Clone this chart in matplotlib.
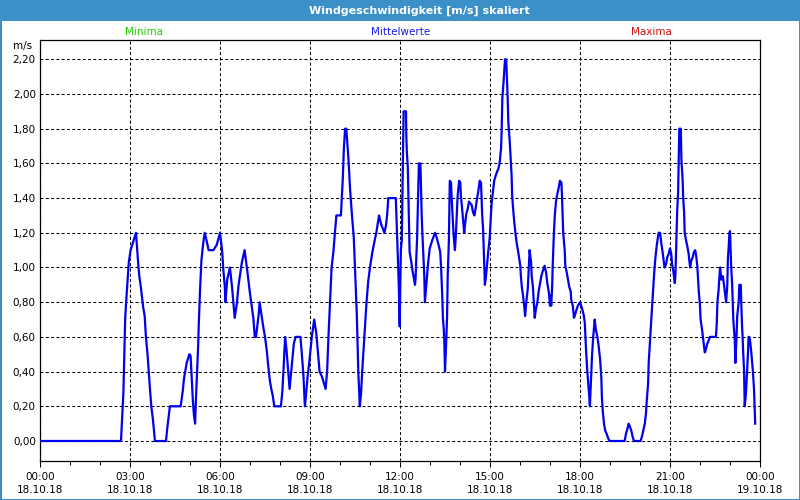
import matplotlib
matplotlib.use('Agg')
import matplotlib.pyplot as plt
from matplotlib.patches import Rectangle
from matplotlib.ticker import MultipleLocator

plt.rcParams['font.family'] = ['DejaVu Sans']
plt.rcParams['lines.scale_dashes'] = False

# ---------------- data ----------------
title = "Windgeschwindigkeit [m/s] skaliert"
legend_labels = ["Minima", "Mittelwerte", "Maxima"]
unit_label = "m/s"

hours = [
    0.00, 2.70, 2.74, 2.78, 2.80, 2.82, 2.84, 2.89, 2.96, 3.02, 3.11, 3.20, 3.22, 3.27, 3.31, 3.36,
    3.44, 3.49, 3.53, 3.58, 3.62, 3.67, 3.71, 3.76, 3.80, 3.83, 4.20, 4.24, 4.29, 4.33, 4.69, 4.76,
    4.80, 4.89, 4.98, 5.02, 5.06, 5.09, 5.13, 5.17, 5.20, 5.23, 5.27, 5.29, 5.33, 5.38, 5.44, 5.49,
    5.56, 5.62, 5.78, 5.89, 6.00, 6.07, 6.11, 6.16, 6.18, 6.24, 6.33, 6.40, 6.44, 6.49, 6.56, 6.62,
    6.73, 6.82, 6.91, 7.00, 7.11, 7.16, 7.20, 7.29, 7.32, 7.39, 7.44, 7.50, 7.56, 7.61, 7.66, 7.71,
    7.76, 7.81, 8.03, 8.08, 8.12, 8.17, 8.21, 8.26, 8.32, 8.39, 8.46, 8.52, 8.68, 8.72, 8.78, 8.83,
    8.88, 8.92, 8.98, 9.06, 9.14, 9.21, 9.26, 9.32, 9.40, 9.52, 9.57, 9.62, 9.67, 9.72, 9.78, 9.83,
    9.88, 10.03, 10.09, 10.13, 10.17, 10.21, 10.28, 10.34, 10.40, 10.46, 10.50, 10.56, 10.58, 10.61,
    10.66, 10.70, 10.74, 10.81, 10.88, 10.94, 11.00, 11.07, 11.16, 11.21, 11.30, 11.37, 11.48, 11.53,
    11.57, 11.61, 11.86, 11.88, 11.92, 11.96, 11.99, 12.01, 12.03, 12.06, 12.08, 12.10, 12.12, 12.20,
    12.21, 12.23, 12.26, 12.28, 12.30, 12.32, 12.37, 12.41, 12.46, 12.50, 12.52, 12.54, 12.57, 12.59,
    12.61, 12.63, 12.68, 12.70, 12.72, 12.74, 12.77, 12.79, 12.81, 12.83, 12.88, 12.92, 12.94, 12.99,
    13.08, 13.17, 13.21, 13.30, 13.34, 13.37, 13.39, 13.41, 13.43, 13.46, 13.48, 13.50, 13.54, 13.57,
    13.59, 13.63, 13.66, 13.70, 13.72, 13.74, 13.79, 13.83, 13.86, 13.88, 13.90, 13.92, 13.97, 14.01,
    14.03, 14.06, 14.10, 14.14, 14.17, 14.21, 14.26, 14.30, 14.39, 14.43, 14.48, 14.52, 14.57, 14.61,
    14.66, 14.68, 14.70, 14.72, 14.74, 14.77, 14.79, 14.81, 14.83, 14.86, 14.90, 14.94, 14.99, 15.03,
    15.06, 15.10, 15.14, 15.19, 15.23, 15.28, 15.32, 15.37, 15.39, 15.41, 15.46, 15.50, 15.54, 15.57,
    15.59, 15.61, 15.66, 15.70, 15.72, 15.74, 15.77, 15.81, 15.86, 15.90, 15.94, 15.99, 16.01, 16.03,
    16.06, 16.10, 16.14, 16.17, 16.21, 16.26, 16.28, 16.30, 16.32, 16.37, 16.39, 16.43, 16.49, 16.53,
    16.58, 16.62, 16.67, 16.71, 16.76, 16.82, 16.87, 16.91, 16.96, 17.00, 17.02, 17.04, 17.07, 17.09,
    17.11, 17.13, 17.16, 17.20, 17.24, 17.29, 17.33, 17.38, 17.40, 17.42, 17.44, 17.49, 17.51, 17.56,
    17.60, 17.64, 17.69, 17.71, 17.76, 17.80, 17.84, 17.89, 17.93, 18.00, 18.04, 18.09, 18.13, 18.16,
    18.20, 18.24, 18.29, 18.33, 18.36, 18.40, 18.44, 18.49, 18.53, 18.58, 18.62, 18.67, 18.71, 18.73,
    18.76, 18.80, 18.84, 18.89, 18.93, 18.98, 19.49, 19.53, 19.58, 19.62, 19.67, 19.71, 19.76, 19.80,
    20.02, 20.07, 20.11, 20.16, 20.20, 20.22, 20.27, 20.29, 20.33, 20.38, 20.42, 20.47, 20.51, 20.56,
    20.62, 20.67, 20.71, 20.76, 20.82, 20.87, 20.91, 20.96, 21.00, 21.04, 21.07, 21.11, 21.16, 21.18,
    21.20, 21.22, 21.24, 21.27, 21.29, 21.31, 21.36, 21.38, 21.40, 21.42, 21.44, 21.47, 21.49, 21.53,
    21.58, 21.62, 21.67, 21.71, 21.76, 21.80, 21.84, 21.87, 21.91, 21.93, 21.96, 22.00, 22.02, 22.07,
    22.11, 22.16, 22.20, 22.24, 22.29, 22.33, 22.53, 22.56, 22.58, 22.62, 22.64, 22.67, 22.71, 22.76,
    22.80, 22.84, 22.87, 22.91, 22.93, 22.96, 22.98, 23.00, 23.02, 23.04, 23.07, 23.09, 23.11, 23.16,
    23.18, 23.20, 23.22, 23.24, 23.29, 23.31, 23.36, 23.38, 23.40, 23.42, 23.44, 23.47, 23.49, 23.53,
    23.56, 23.58, 23.60, 23.62, 23.64, 23.67, 23.71, 23.76, 23.80, 23.82, 23.84,
]

speed = [
    0.00, 0.00, 0.14, 0.28, 0.42, 0.56, 0.71, 0.85, 1.03, 1.10, 1.15, 1.20, 1.15, 1.03, 0.95, 0.89,
    0.77, 0.72, 0.60, 0.51, 0.41, 0.29, 0.20, 0.13, 0.06, 0.00, 0.00, 0.07, 0.14, 0.20, 0.20, 0.29,
    0.36, 0.45, 0.50, 0.49, 0.35, 0.25, 0.15, 0.10, 0.25, 0.38, 0.54, 0.66, 0.85, 1.04, 1.14, 1.20,
    1.15, 1.10, 1.10, 1.13, 1.20, 1.10, 0.99, 0.89, 0.80, 0.93, 1.00, 0.89, 0.81, 0.71, 0.79, 0.90,
    1.03, 1.10, 0.98, 0.85, 0.71, 0.60, 0.60, 0.73, 0.80, 0.72, 0.66, 0.60, 0.52, 0.43, 0.35, 0.30,
    0.26, 0.20, 0.20, 0.29, 0.42, 0.60, 0.54, 0.43, 0.30, 0.43, 0.56, 0.60, 0.60, 0.52, 0.38, 0.20,
    0.29, 0.37, 0.46, 0.60, 0.70, 0.62, 0.52, 0.40, 0.37, 0.30, 0.40, 0.62, 0.81, 1.00, 1.09, 1.20,
    1.30, 1.30, 1.50, 1.69, 1.80, 1.80, 1.63, 1.44, 1.30, 1.17, 1.00, 0.73, 0.60, 0.40,
    0.20, 0.27, 0.40, 0.60, 0.79, 0.92, 1.00, 1.08, 1.16, 1.20, 1.30, 1.25, 1.20, 1.24,
    1.30, 1.40, 1.40, 1.30, 1.10, 0.90, 0.66, 0.91, 1.10, 1.16, 1.40, 1.60, 1.90, 1.90,
    1.76, 1.66, 1.58, 1.42, 1.24, 1.09, 1.04, 0.99, 0.94, 0.90, 0.94, 1.04, 1.17, 1.31,
    1.44, 1.60, 1.60, 1.46, 1.32, 1.22, 1.11, 1.03, 0.95, 0.80, 0.91, 0.99, 1.03, 1.11,
    1.16, 1.20, 1.18, 1.12, 1.09, 1.00, 0.91, 0.83, 0.71, 0.64, 0.56, 0.40, 0.57, 0.72,
    0.95, 1.16, 1.50, 1.49, 1.41, 1.34, 1.18, 1.10, 1.18, 1.26, 1.34, 1.41, 1.50, 1.49,
    1.41, 1.36, 1.28, 1.20, 1.25, 1.31, 1.34, 1.38, 1.36, 1.32, 1.30, 1.34, 1.40, 1.44,
    1.50, 1.47, 1.49, 1.39, 1.30, 1.22, 1.11, 1.01, 0.90, 0.94, 1.01, 1.09, 1.17, 1.30,
    1.38, 1.44, 1.50, 1.53, 1.55, 1.57, 1.60, 1.69, 1.80, 1.97, 2.09, 2.20, 2.20, 2.06,
    1.97, 1.84, 1.72, 1.60, 1.53, 1.41, 1.34, 1.26, 1.18, 1.13, 1.09, 1.03, 1.01, 0.95,
    0.89, 0.84, 0.78, 0.72, 0.80, 0.88, 0.95, 1.03, 1.10, 1.03, 0.95, 0.89, 0.71, 0.76,
    0.80, 0.86, 0.91, 0.95, 0.98, 1.01, 0.97, 0.91, 0.86, 0.78, 0.84, 0.78, 0.88, 1.01,
    1.10, 1.20, 1.30, 1.38, 1.42, 1.46, 1.50, 1.49, 1.41, 1.30, 1.20, 1.10, 1.01, 0.97,
    0.93, 0.89, 0.86, 0.81, 0.78, 0.71, 0.73, 0.76, 0.78, 0.80, 0.78, 0.75, 0.72, 0.68,
    0.53, 0.41, 0.30, 0.20, 0.33, 0.49, 0.60, 0.70, 0.64, 0.60, 0.55, 0.47, 0.37, 0.25,
    0.17, 0.10, 0.06, 0.04, 0.02, 0.00, 0.00, 0.04, 0.07, 0.10, 0.08, 0.06, 0.02, 0.00,
    0.00, 0.03, 0.06, 0.10, 0.16, 0.22, 0.33, 0.45, 0.57, 0.71, 0.82, 0.96, 1.05, 1.13,
    1.20, 1.20, 1.14, 1.08, 1.00, 1.02, 1.06, 1.08, 1.11, 1.08, 1.02, 0.98, 0.91, 0.95,
    1.08, 1.20, 1.33, 1.43, 1.62, 1.80, 1.80, 1.62, 1.56, 1.51, 1.40, 1.32, 1.20, 1.16,
    1.12, 1.08, 1.00, 1.04, 1.06, 1.09, 1.10, 1.07, 1.01, 0.95, 0.86, 0.78, 0.70, 0.64,
    0.58, 0.51, 0.53, 0.56, 0.58, 0.60, 0.60, 0.68, 0.80, 0.87, 0.93, 1.00, 0.93, 0.95,
    0.90, 0.84, 0.80, 0.90, 1.05, 1.13, 1.20, 1.21, 1.11, 1.00, 0.91, 0.81, 0.70, 0.58,
    0.45, 0.53, 0.61, 0.72, 0.80, 0.90, 0.90, 0.77, 0.67, 0.60, 0.51, 0.40, 0.20, 0.27,
    0.38, 0.44, 0.51, 0.60, 0.60, 0.58, 0.51, 0.41, 0.30, 0.20, 0.10,
]

y_ticks = [0.0, 0.2, 0.4, 0.6, 0.8, 1.0, 1.2, 1.4, 1.6, 1.8, 2.0, 2.2]
y_tick_labels = ["0,00", "0,20", "0,40", "0,60", "0,80", "1,00", "1,20",
                 "1,40", "1,60", "1,80", "2,00", "2,20"]
x_ticks = [0, 3, 6, 9, 12, 15, 18, 21, 24]
x_tick_labels = ["00:00\n18.10.18", "03:00\n18.10.18", "06:00\n18.10.18",
                 "09:00\n18.10.18", "12:00\n18.10.18", "15:00\n18.10.18",
                 "18:00\n18.10.18", "21:00\n18.10.18", "00:00\n19.10.18"]

# ---------------- style ----------------
FRAME_BLUE = '#3c90c8'
LINE_BLUE = '#0000ee'
W, H = 800, 500


def fx(px):
    return px / W


def fy(py):
    return 1 - py / H


fig = plt.figure(figsize=(8, 5), dpi=100, facecolor='white')

# window frame
fig.patches.append(Rectangle((0, fy(20.5)), 1, 20.5 / H, transform=fig.transFigure,
                             facecolor=FRAME_BLUE, edgecolor='none', zorder=0))
for rect in [(0, 0, 1.5 / W, 1), (1 - 1.5 / W, 0, 1.5 / W, 1), (0, 0, 1, 1.5 / H)]:
    fig.patches.append(Rectangle(rect[:2], rect[2], rect[3], transform=fig.transFigure,
                                 facecolor=FRAME_BLUE, edgecolor='none', zorder=0))

fig.text(fx(419), fy(10.5), title, color='white', fontsize=8, fontweight='bold',
         ha='center', va='center')

ax_bottom_px, ax_top_px = 460.5, 40
ax = fig.add_axes([fx(40), fy(ax_bottom_px), fx(720), (ax_bottom_px - ax_top_px) / H])

ax.plot(hours, speed, color=LINE_BLUE, lw=1.6, zorder=3)

ax.set_xlim(0, 24)
ax.set_ylim(-0.1124, 2.3112)

ax.set_yticks(y_ticks)
ax.set_yticklabels(y_tick_labels)
ax.set_xticks(x_ticks)
ax.set_xticklabels(x_tick_labels)
ax.xaxis.set_minor_locator(MultipleLocator(1))
for lbl in ax.get_xticklabels():
    lbl.set_linespacing(1.45)

ax.grid(True, which='major', color='black', linestyle=(0, (2.2, 1.6)), lw=0.75, zorder=1)

ax.tick_params(axis='y', length=0, pad=3, labelsize=7.5, colors='black')
ax.tick_params(axis='x', which='major', length=4, width=0.75, pad=4, labelsize=7.5,
               direction='out')
ax.tick_params(axis='x', which='minor', length=3, width=0.75, direction='out')
for sp in ax.spines.values():
    sp.set_linewidth(0.9)
    sp.set_color('black')

fig.text(fx(32), fy(46), unit_label, fontsize=7.5, ha='right', va='center', color='black')
legend_colors = ['#22cc00', '#1a1aee', '#cc1010']
legend_x = [144, 401, 651]
for lab, col, xp in zip(legend_labels, legend_colors, legend_x):
    fig.text(fx(xp), fy(32), lab, fontsize=7.5, color=col, ha='center', va='center')

fig.savefig('out.png', dpi=100, facecolor='white')
